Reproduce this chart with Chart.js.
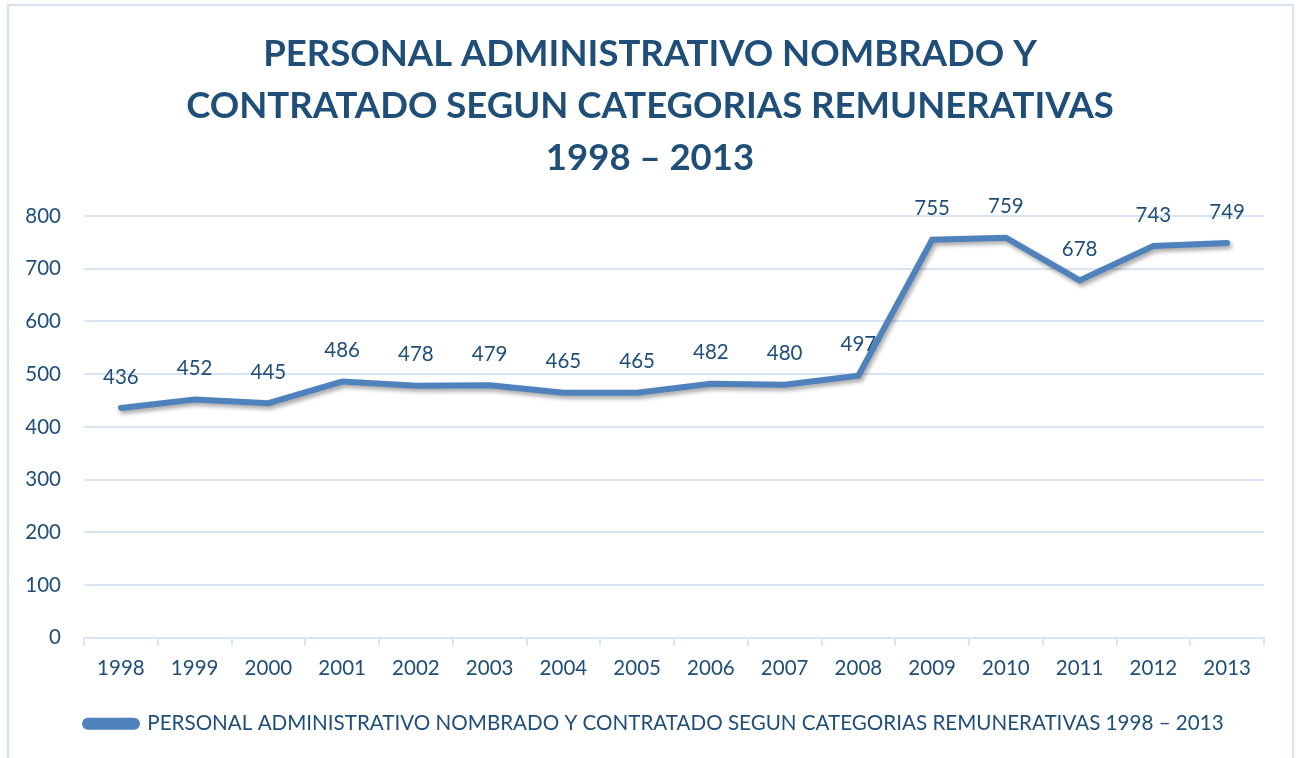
<!DOCTYPE html>
<html>
<head>
<meta charset="utf-8">
<script src="https://cdn.jsdelivr.net/npm/chart.js@4/dist/chart.umd.min.js"></script>
<style>
  html, body { margin: 0; padding: 0; background: #ffffff; }
  #wrap { position: relative; width: 1301px; height: 758px; }
  canvas { display: block; }
</style>
</head>
<body>
<div id="wrap"><canvas id="c" width="1301" height="758"></canvas></div>
<script>
const years = ['1998','1999','2000','2001','2002','2003','2004','2005','2006','2007','2008','2009','2010','2011','2012','2013'];
const personal = [436,452,445,486,478,479,465,465,482,480,497,755,759,678,743,749];
const titleLines = ['PERSONAL ADMINISTRATIVO NOMBRADO Y', 'CONTRATADO SEGUN CATEGORIAS REMUNERATIVAS', '1998 – 2013'];
const seriesName = 'PERSONAL ADMINISTRATIVO NOMBRADO Y CONTRATADO SEGUN CATEGORIAS REMUNERATIVAS 1998 – 2013';

const TEXT = '#1F4E79';
const LINE = '#4F81BD';
const GRID = '#D9E4F2';
const FONT = 'Lato, "Open Sans", sans-serif';

const frame = {
  id: 'frame',
  beforeDraw(chart) {
    const ctx = chart.ctx;
    ctx.save();
    ctx.fillStyle = '#fff';
    ctx.fillRect(0, 0, chart.width, chart.height);
    ctx.strokeStyle = '#D6E2F2';
    ctx.lineWidth = 2;
    ctx.strokeRect(8, 5, 1285, 800);
    ctx.restore();
  }
};

const boxShift = {
  id: 'boxShift',
  afterLayout(chart) {
    const lg = chart.legend;
    if (lg) { const d = 85 - (lg.left + 6); lg.left += d; lg.right += d; }
    const tb = chart.titleBlock;
    if (tb) { tb.left += 10; tb.right += 10; }
  }
};

const shadow = {
  id: 'shadow',
  beforeDatasetDraw(chart) {
    const ctx = chart.ctx;
    ctx.save();
    ctx.shadowColor = 'rgba(0,0,0,0.35)';
    ctx.shadowBlur = 4;
    ctx.shadowOffsetX = 2;
    ctx.shadowOffsetY = 3;
  },
  afterDatasetDraw(chart) {
    chart.ctx.restore();
  }
};

const labels = {
  id: 'valueLabels',
  afterDatasetsDraw(chart) {
    const ctx = chart.ctx;
    const meta = chart.getDatasetMeta(0);
    ctx.save();
    ctx.font = '20.5px ' + FONT;
    ctx.fillStyle = TEXT;
    ctx.textAlign = 'center';
    ctx.textBaseline = 'middle';
    meta.data.forEach((pt, i) => {
      ctx.fillText(String(chart.data.datasets[0].data[i]), pt.x, pt.y - 31);
    });
    ctx.restore();
  }
};

new Chart(document.getElementById('c'), {
  type: 'line',
  data: {
    labels: years,
    datasets: [{
      label: seriesName,
      data: personal,
      borderColor: LINE,
      backgroundColor: LINE,
      borderWidth: 6,
      borderCapStyle: 'round',
      borderJoinStyle: 'miter',
      pointRadius: 0,
      pointHoverRadius: 0,
      tension: 0,
      fill: false
    }]
  },
  options: {
    responsive: false,
    animation: false,
    events: [],
    layout: { padding: { left: 16, right: 37, top: 0, bottom: 14 } },
    plugins: {
      title: {
        display: true,
        text: titleLines,
        color: TEXT,
        font: { family: FONT, size: 36.5, weight: 'bold', lineHeight: 1.425 },
        padding: { top: 28, bottom: 32 }
      },
      legend: {
        display: true,
        position: 'bottom',
        align: 'start',
        labels: {
          color: TEXT,
          font: { family: FONT, size: 20.6 },
          boxWidth: 52,
          boxHeight: 6,
          useBorderRadius: true,
          borderRadius: 3,
          padding: 6
        }
      },
      tooltip: { enabled: false }
    },
    scales: {
      x: {
        offset: true,
        grid: { offset: true, drawOnChartArea: false, drawTicks: true, tickLength: 8, color: GRID, lineWidth: 2 },
        border: { display: true, color: GRID, width: 2 },
        ticks: { color: TEXT, font: { family: FONT, size: 20.5 }, padding: 10, maxRotation: 0, autoSkip: false },
        afterFit(s) { s.height += 17; }
      },
      y: {
        min: 0,
        max: 800,
        ticks: { stepSize: 100, color: TEXT, font: { family: FONT, size: 20.5 }, padding: 23 },
        grid: { color: GRID, lineWidth: 2, drawTicks: false },
        border: { display: false },
        afterFit(s) { s.width = 68; }
      }
    }
  },
  plugins: [frame, boxShift, shadow, labels]
});
</script>
</body>
</html>
